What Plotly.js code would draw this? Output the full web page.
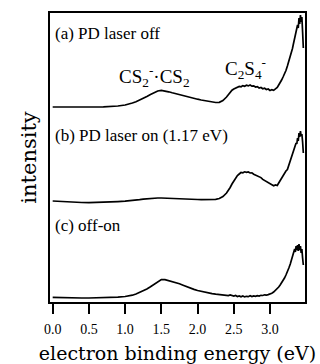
<!DOCTYPE html>
<html>
<head>
<meta charset="utf-8">
<script src="https://cdn.plot.ly/plotly-3.0.1.min.js"></script>
<style>html,body{margin:0;padding:0;background:#fff;}#chart{width:320px;height:364px;}</style>
</head>
<body>
<div id="chart"></div>
<script>
// electron binding energy grid (eV)
const energy = [
  0.0,0.1,0.2,0.3,0.4,0.5,0.6,0.7,0.8,0.9,1.0,
  1.05,1.10,1.15,1.20,1.25,1.30,1.35,1.40,1.45,1.50,1.55,1.60,1.65,1.70,1.75,1.80,1.85,1.90,1.95,2.00,2.05,2.10,2.15,2.20,2.25,2.30,2.35,2.40,
  2.425,2.45,2.475,2.50,2.525,2.55,2.575,2.60,2.625,2.65,2.675,2.70,2.725,2.75,2.775,2.80,2.825,2.85,2.875,2.90,2.925,2.95,2.975,3.00,3.025,3.05,3.075,3.10,
  3.12,3.14,3.16,3.18,3.20,3.22,3.24,3.26,3.28,3.30,
  3.31,3.32,3.33,3.34,3.35,3.36,3.37,3.38,3.39,3.40,3.41,3.42,3.43,3.44,3.45,3.46
];
// (a) PD laser off
const laserOff = [
  0,-0.1,-0.2,-0.2,-0.2,-0.1,0,0.2,0.5,1,2,
  2.8,4,5.2,6.7,8.5,10.5,12.5,14.5,16,16.7,16.2,15.2,14.2,13.2,12.3,11.4,10.5,9.7,8.8,7.8,7,6.2,5.4,4.8,4.5,4.7,6.5,10,
  12.5,15,16.8,18,19,19.7,20.5,20.2,21.4,20.7,21.8,21.1,22,20.8,21.2,20,20.4,19,19.5,18.2,18.8,17.5,18,16.5,17.4,16.7,18.4,19.5,
  22,24,27,30,33,36.5,41,45.5,50,56,
  58.5,62,65,67.5,71,74,77,82,79,89,83,92,85,90,75,59
];
// (b) PD laser on (1.17 eV)
const laserOn = [
  1,0.5,0,-0.3,-0.5,-0.6,-0.5,-0.3,0,0.4,0.8,
  1,1.4,1.8,2.3,2.8,3.2,3.6,3.8,4,4,3.8,3.5,3.2,3,2.8,2.7,2.8,2.6,2.7,2.5,2.4,2.3,2.4,2.5,2.7,3.5,5.5,9,
  11.5,14.5,18,21,24,26.5,28,29.5,29.2,30.2,29.6,30,29,29.2,27.8,27,26.2,24.8,24.4,22.6,21.5,20.2,19.4,17.8,17.2,16.2,17,16.5,
  19,21.5,24,25.5,28.5,31,32.5,37,41,45,
  47,49,52,54,57,59,58,64,61,69,65,71,66,68,60,49
];
// (c) off - on
const offMinusOn = [
  0.7,0.4,0.1,0,0,0,0.1,0.2,0.5,0.9,1.5,
  2,2.8,4,5.5,7.2,9,11.2,13.5,16,18.5,18.4,17.5,16.7,15.5,14.2,12.8,11.2,9.8,8.6,7.5,6.6,5.8,5,4.4,3.8,3.3,3,2.7,
  2.4,3,2.2,2,2.6,1.5,2.1,1.2,2,1.1,1.7,1.3,2.2,1.4,2.1,1.6,2.4,2,2.7,2.5,3.2,2.8,3.4,3.8,4.8,6,7.5,9,
  11,13,15,17.5,20,23,26,30,34,39,
  41.5,44,47,49,46,52,48,53,47,54,48,52,45,49,40,33
];
const spectra = [laserOff, laserOn, offMinusOn];
const stackOffsets = [195, 100, 4];
const panelLabels = ["(a) PD laser off", "(b) PD laser on (1.17 eV)", "(c) off-on"];
const tickValues = [0.0, 0.5, 1.0, 1.5, 2.0, 2.5, 3.0];

const traces = spectra.map((s, i) => ({
  x: energy,
  y: s.map(v => v + stackOffsets[i]),
  type: 'scatter',
  mode: 'lines',
  line: {color: '#000', width: 1.7},
  hoverinfo: 'skip'
}));

const labelY = [269, 167, 77];
const annotations = panelLabels.map((t, i) => ({
  text: t, xref: 'x', yref: 'y', x: 0.0, y: labelY[i],
  xanchor: 'left', yanchor: 'middle', showarrow: false,
  font: {family: 'Liberation Serif, serif', size: 17, color: '#000'}
}));
annotations.push({
  text: 'CS<sub>2</sub><sup>-</sup>·CS<sub>2</sub>', xref: 'x', yref: 'y', x: 1.40, y: 226,
  xanchor: 'center', yanchor: 'middle', showarrow: false,
  font: {family: 'Liberation Serif, serif', size: 19, color: '#000'}
});
annotations.push({
  text: 'C<sub>2</sub>S<sub>4</sub><sup>-</sup>', xref: 'x', yref: 'y', x: 2.66, y: 234,
  xanchor: 'center', yanchor: 'middle', showarrow: false,
  font: {family: 'Liberation Serif, serif', size: 19, color: '#000'}
});

const layout = {
  width: 320, height: 364,
  margin: {l: 50, r: 15, t: 13, b: 62},
  paper_bgcolor: '#fff', plot_bgcolor: '#fff',
  showlegend: false,
  xaxis: {
    range: [-0.037, 3.483],
    tickvals: tickValues,
    ticktext: tickValues.map(v => v.toFixed(1)),
    ticks: 'outside', ticklen: 10, tickwidth: 2, tickcolor: '#000',
    ticklabelstandoff: 3,
    showline: true, linewidth: 2, linecolor: '#000', mirror: true,
    showgrid: false, zeroline: false,
    tickfont: {family: 'Liberation Serif, serif', size: 14, color: '#000'},
    title: {text: 'electron binding energy (eV)', standoff: 11,
            font: {family: 'DejaVu Serif, serif', size: 19, color: '#000'}}
  },
  yaxis: {
    range: [0, 289],
    showticklabels: false, ticks: '',
    showline: true, linewidth: 2, linecolor: '#000', mirror: true,
    showgrid: false, zeroline: false,
    title: {text: 'intensity', standoff: 6,
            font: {family: 'DejaVu Serif, serif', size: 21, color: '#000'}}
  },
  annotations: annotations
};

Plotly.newPlot('chart', traces, layout, {staticPlot: true, displayModeBar: false});
</script>
</body>
</html>
